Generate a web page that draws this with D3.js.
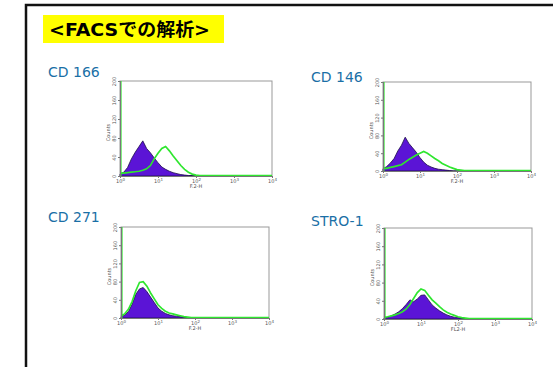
<!DOCTYPE html>
<html>
<head>
<meta charset="utf-8">
<script src="https://cdn.jsdelivr.net/npm/d3@7"></script>
<style>
  body { margin: 0; background: #fff; }
  svg { display: block; }
</style>
</head>
<body>
<svg id="chart" width="553" height="367"></svg>
<script>
// histogram counts, one value per 0.1 decade from 10^0 to 10^4 (41 bins)
var binStep = 0.1;
var titleText = "<FACSでの解析>";
var panelNames = ["CD 166", "CD 146", "CD 271", "STRO-1"];
var axisNames = ["F.2-H", "F.2-H", "F.2-H", "FL2-H"];
var yTicks = [0, 40, 80, 120, 160, 200];
var xTicks = [1, 10, 100, 1000, 10000];

// control (purple, filled)
var cd166Ctrl = [4, 8, 18, 36, 50, 62, 74, 58, 49, 38, 28, 19, 14, 10, 7, 5, 3, 2, 1, 1, 0, 0, 0, 0, 0, 0, 0, 0, 0, 0, 0, 0, 0, 0, 0, 0, 0, 0, 0, 0, 0];
var cd146Ctrl = [5, 10, 18, 28, 45, 58, 76, 62, 52, 42, 30, 20, 13, 9, 6, 4, 3, 2, 1, 0, 0, 0, 0, 0, 0, 0, 0, 0, 0, 0, 0, 0, 0, 0, 0, 0, 0, 0, 0, 0, 0];
var cd271Ctrl = [3, 6, 14, 30, 52, 64, 67, 58, 46, 34, 22, 15, 10, 7, 5, 4, 3, 2, 1, 0, 0, 0, 0, 0, 0, 0, 0, 0, 0, 0, 0, 0, 0, 0, 0, 0, 0, 0, 0, 0, 0];
var stro1Ctrl = [2, 4, 7, 11, 16, 23, 32, 42, 38, 44, 52, 53, 42, 31, 24, 18, 13, 9, 6, 4, 3, 2, 1, 0, 0, 0, 0, 0, 0, 0, 0, 0, 0, 0, 0, 0, 0, 0, 0, 0, 0];

// stained (green line)
var cd166Stain = [6, 6, 7, 8, 9, 10, 12, 15, 22, 36, 48, 58, 62, 53, 42, 32, 22, 14, 8, 4, 2, 1, 1, 1, 1, 1, 1, 1, 1, 1, 1, 1, 1, 1, 1, 1, 1, 1, 1, 1, 1];
var cd146Stain = [6, 6, 8, 10, 12, 14, 20, 26, 31, 36, 40, 44, 40, 34, 28, 23, 17, 13, 9, 6, 3, 2, 1, 1, 1, 1, 1, 1, 1, 1, 1, 1, 1, 1, 1, 1, 1, 1, 1, 1, 1];
var cd271Stain = [5, 9, 19, 36, 60, 78, 80, 70, 55, 42, 29, 21, 15, 11, 9, 7, 5, 3, 2, 1, 1, 1, 1, 1, 1, 1, 1, 1, 1, 1, 1, 1, 1, 1, 1, 1, 1, 1, 1, 1, 1];
var stro1Stain = [4, 5, 7, 9, 12, 16, 22, 32, 45, 58, 66, 63, 52, 42, 35, 27, 20, 15, 11, 8, 5, 3, 2, 1, 1, 1, 1, 1, 1, 1, 1, 1, 1, 1, 1, 1, 1, 1, 1, 1, 1];
// first channel of the stained sample, off scale
var firstChannel = [250, 250, 250, 250];

var ctrlData = [cd166Ctrl, cd146Ctrl, cd271Ctrl, stro1Ctrl];
var stainData = [cd166Stain, cd146Stain, cd271Stain, stro1Stain];

// plot boxes (left, right, top, bottom) and name baselines
var boxes = [
  { l: 120, r: 272, t: 81, b: 176, nx: 48, ny: 77 },
  { l: 383, r: 531, t: 82, b: 171, nx: 311, ny: 82 },
  { l: 121, r: 269, t: 227, b: 318, nx: 48, ny: 222 },
  { l: 384, r: 532, t: 228, b: 319, nx: 311, ny: 226 }
];

var svg = d3.select("#chart");

// outer frame (runs off the right and bottom)
svg.append("rect")
  .attr("x", 26).attr("y", 5)
  .attr("width", 600).attr("height", 400)
  .attr("fill", "none")
  .attr("stroke", "#111")
  .attr("stroke-width", 2.5);

// title
svg.append("rect")
  .attr("x", 43).attr("y", 15)
  .attr("width", 181).attr("height", 28)
  .attr("fill", "#ffff00");
svg.append("text")
  .attr("x", 49).attr("y", 36)
  .attr("font-family", "'DejaVu Sans', 'Noto Sans CJK JP', sans-serif")
  .attr("font-weight", "bold")
  .attr("font-size", 18)
  .attr("textLength", 161)
  .attr("lengthAdjust", "spacingAndGlyphs")
  .attr("fill", "#000")
  .text(titleText);

var sup = { 1: "0", 10: "1", 100: "2", 1000: "3", 10000: "4" };

boxes.forEach(function (bx, k) {
  var x = d3.scaleLog().domain([1, 10000]).range([bx.l, bx.r]);
  var y = d3.scaleLinear().domain([0, 200]).range([bx.b, bx.t]).clamp(true);

  var g = svg.append("g");

  // panel name
  g.append("text")
    .attr("x", bx.nx)
    .attr("y", bx.ny)
    .attr("font-family", "'DejaVu Sans', sans-serif")
    .attr("font-size", 14)
    .attr("fill", "#1a6fa6")
    .text(panelNames[k]);

  // frame
  g.append("rect")
    .attr("x", bx.l).attr("y", bx.t)
    .attr("width", bx.r - bx.l).attr("height", bx.b - bx.t)
    .attr("fill", "#fff")
    .attr("stroke", "#999")
    .attr("stroke-width", 1);

  var pts = function (arr) {
    return arr.map(function (v, i) {
      return { x: Math.pow(10, i * binStep), v: v };
    });
  };

  var area = d3.area()
    .x(function (d) { return x(d.x); })
    .y0(bx.b)
    .y1(function (d) { return y(d.v); });

  var line = d3.line()
    .x(function (d) { return x(d.x); })
    .y(function (d) { return y(d.v); });

  g.append("path")
    .datum(pts(ctrlData[k]))
    .attr("d", area)
    .attr("fill", "#5b14d6")
    .attr("stroke", "#1c0c4a")
    .attr("stroke-width", 0.8);

  g.append("path")
    .datum(pts(stainData[k]))
    .attr("d", line)
    .attr("fill", "none")
    .attr("stroke", "#2fe62f")
    .attr("stroke-width", 1.7);

  // off-scale first channel
  g.append("line")
    .attr("x1", x(1) + 0.8).attr("x2", x(1) + 0.8)
    .attr("y1", y(0)).attr("y2", y(firstChannel[k]))
    .attr("stroke", "#2fe62f")
    .attr("stroke-width", 1.6);

  // x axis
  var xa = g.append("g")
    .attr("transform", "translate(0," + bx.b + ")")
    .call(d3.axisBottom(x).tickValues(xTicks).tickSize(2).tickFormat(function () { return ""; }));
  xa.select(".domain").attr("stroke", "#777");
  xa.selectAll(".tick line").attr("stroke", "#777");
  xa.selectAll(".tick").append("text")
    .attr("y", 7)
    .attr("fill", "#555")
    .attr("font-size", 5)
    .attr("text-anchor", "middle")
    .attr("font-family", "'DejaVu Sans', sans-serif")
    .text("10")
    .append("tspan")
    .attr("dy", -2)
    .attr("font-size", 4)
    .text(function (d) { return sup[d]; });

  g.append("text")
    .attr("x", x(100))
    .attr("y", bx.b + 12)
    .attr("fill", "#555")
    .attr("font-size", 5)
    .attr("text-anchor", "middle")
    .attr("font-family", "'DejaVu Sans', sans-serif")
    .text(axisNames[k]);

  // y axis
  var ya = g.append("g")
    .attr("transform", "translate(" + bx.l + ",0)")
    .call(d3.axisLeft(y).tickValues(yTicks).tickSize(2).tickFormat(function () { return ""; }));
  ya.select(".domain").attr("stroke", "#777");
  ya.selectAll(".tick line").attr("stroke", "#777");
  ya.selectAll(".tick").append("text")
    .attr("transform", "translate(-4,0) rotate(-90)")
    .attr("fill", "#555")
    .attr("font-size", 5)
    .attr("text-anchor", "middle")
    .attr("font-family", "'DejaVu Sans', sans-serif")
    .text(function (d) { return d; });

  g.append("text")
    .attr("transform", "translate(" + (bx.l - 10) + "," + ((bx.t + bx.b) / 2 + 4) + ") rotate(-90)")
    .attr("fill", "#555")
    .attr("font-size", 5)
    .attr("text-anchor", "middle")
    .attr("font-family", "'DejaVu Sans', sans-serif")
    .text("Counts");
});
</script>
</body>
</html>
